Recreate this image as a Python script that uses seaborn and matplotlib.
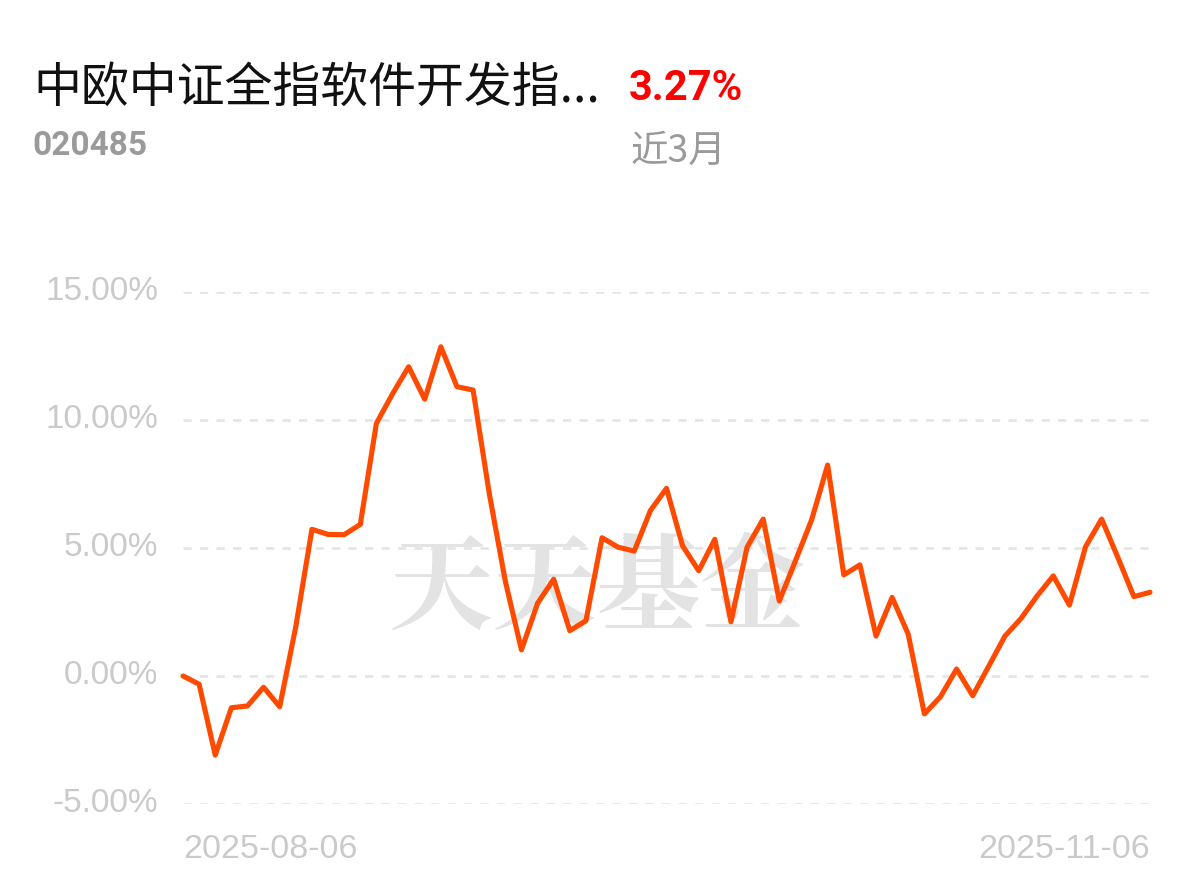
import matplotlib
matplotlib.use("Agg")
import matplotlib.pyplot as plt
import seaborn as sns
import numpy as np
import pandas as pd

# ---- data ----
fund_name = "中欧中证全指软件开发指..."
fund_code = "020485"
period_return = "3.27%"
period_label = "近3月"
watermark = "天天基金"
x_tick_labels = ["2025-08-06", "2025-11-06"]
y_ticks = [-5, 0, 5, 10, 15]
y_tick_labels = ["-5.00%", "0.00%", "5.00%", "10.00%", "15.00%"]

returns = [
    0.00, -0.32, -3.09, -1.24, -1.17, -0.44, -1.20, 1.93, 5.73, 5.53,
    5.52, 5.92, 9.87, 11.02, 12.08, 10.81, 12.86, 11.30, 11.17, 7.14,
    3.70, 1.02, 2.84, 3.78, 1.77, 2.16, 5.40, 5.03, 4.88, 6.46,
    7.33, 5.08, 4.11, 5.34, 2.12, 5.03, 6.13, 2.93, 4.50, 6.09,
    8.24, 3.95, 4.34, 1.56, 3.07, 1.63, -1.48, -0.81, 0.27, -0.77,
    0.39, 1.56, 2.25, 3.13, 3.91, 2.77, 5.05, 6.13, 4.64, 3.10,
    3.27,
]

df = pd.DataFrame({"idx": np.arange(len(returns)), "ret": returns})

sns.set_style("white")
plt.rcParams["font.family"] = ["Noto Sans CJK SC", "DejaVu Sans"]

W, H = 1194, 881
fig = plt.figure(figsize=(W / 100, H / 100), dpi=100)
fig.patch.set_facecolor("white")

left, right = 183 / W, 1150 / W
bottom, top = (H - 804) / H, (H - 292) / H
ax = fig.add_axes([left, bottom, right - left, top - bottom])
ax.set_facecolor("white")

# watermark (behind the line)
ax.text(597 / W, 1 - 592 / H, watermark, ha="center", va="center",
        fontsize=75, color="#e3e3e3", fontweight="heavy",
        family=["Noto Serif CJK SC", "Noto Sans CJK SC"], zorder=0,
        transform=fig.transFigure)

# grid
for yt in y_ticks:
    ax.axhline(yt, color="#e3e3e3", lw=1.8, ls=(0, (3.3, 3.3)), zorder=1)

sns.lineplot(data=df, x="idx", y="ret", ax=ax, color="#FF4A00",
             linewidth=3.7, zorder=3, clip_on=False)
for l in ax.lines:
    l.set_solid_joinstyle("round")
    l.set_solid_capstyle("round")

ax.set_xlim(0, len(returns) - 1)
ax.set_ylim(-5, 15)
ax.set_xlabel("")
ax.set_ylabel("")
ax.set_xticks([])
ax.set_yticks([])
for s in ax.spines.values():
    s.set_visible(False)

tick_font = ["Liberation Sans", "DejaVu Sans"]
# y tick labels
for yt, lab in zip(y_ticks, y_tick_labels):
    yf = bottom + (yt - (-5)) / 20 * (top - bottom)
    fig.text(158 / W, yf, lab, ha="right", va="center", fontsize=24,
             color="#cacaca", family=tick_font)

# x tick labels
fig.text(183 / W, 1 - 850 / H, x_tick_labels[0], ha="left", va="center",
         fontsize=24.5, color="#cacaca", family=tick_font)
fig.text(1150 / W, 1 - 850 / H, x_tick_labels[1], ha="right", va="center",
         fontsize=24.5, color="#cacaca", family=tick_font)

# header
fig.text(33 / W, 1 - 88 / H, fund_name, ha="left", va="center",
         fontsize=34.5, color="#111111")
fig.text(629 / W, 1 - 88 / H, period_return, ha="left", va="center",
         fontsize=30, color="#ff0000", fontweight="bold",
         family=["Roboto", "DejaVu Sans"])
fig.text(32 / W, 1 - 146 / H, fund_code, ha="left", va="center",
         fontsize=24, color="#9a9a9a", fontweight="bold",
         family=["Roboto", "DejaVu Sans"])
fig.text(631 / W, 1 - 151 / H, period_label, ha="left", va="center",
         fontsize=27, color="#9a9a9a")

fig.savefig("out.png", dpi=100, facecolor="white")
